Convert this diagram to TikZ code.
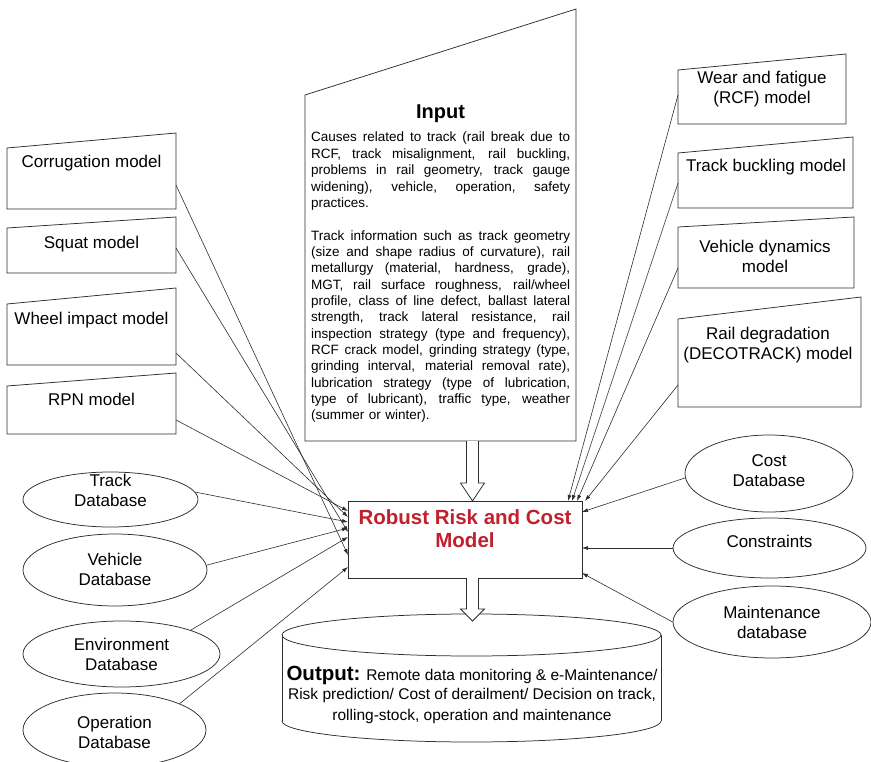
\documentclass[tikz,border=0pt]{standalone}
\usepackage{fontspec}
\setmainfont{Liberation Sans}
\usetikzlibrary{arrows.meta,shapes.geometric}
\definecolor{rrred}{RGB}{193,32,45}
\definecolor{ink}{RGB}{45,45,45}
\newcommand{\jline}[1]{\leavevmode{\spaceskip=0.278em plus 1fil\xspaceskip=0.278em plus 1fil\hbox to 259pt{#1}}}
\begin{document}
\begin{tikzpicture}[x=1pt,y=-1pt,
  shapeline/.style={draw=ink,line width=0.75pt,fill=white,line join=miter},
  lbl/.style={inner sep=0pt,align=center,text=black,font=\fontsize{17}{20}\selectfont},
  dbnode/.style={shapeline,ellipse,inner sep=0pt},
  conn/.style={draw=ink,line width=0.6pt,-{Latex[length=6pt,width=4pt]}}]
\useasboundingbox (0,0) rectangle (871,762);

% ---------- Input box ----------
\draw[shapeline] (305,441) -- (305,95) -- (576,9) -- (576,441) -- cycle;
\node[anchor=base,inner sep=0pt,font=\fontsize{20}{24}\selectfont\bfseries] (inputtitle) at (440.5,119) {Input};
\node[anchor=north west,inner sep=0pt,text width=259pt,font=\fontsize{13.5}{16.35}\selectfont] (inputbody) at (311,132) {\noindent
\jline{Causes related to track (rail break due to}\\
\jline{RCF, track misalignment, rail buckling,}\\
\jline{problems in rail geometry, track gauge}\\
\jline{widening), vehicle, operation, safety}\\
practices.\\[16.35pt]
\jline{Track information such as track geometry}\\
\jline{(size and shape radius of curvature), rail}\\
\jline{metallurgy (material, hardness, grade),}\\
\jline{MGT, rail surface roughness, rail/wheel}\\
\jline{profile, class of line defect, ballast lateral}\\
\jline{strength, track lateral resistance, rail}\\
\jline{inspection strategy (type and frequency),}\\
\jline{RCF crack model, grinding strategy (type,}\\
\jline{grinding interval, material removal rate),}\\
\jline{lubrication strategy (type of lubrication,}\\
\jline{type of lubricant), traffic type, weather}\\
(summer or winter).};

% ---------- Robust model box ----------
\node[shapeline,minimum width=234pt,minimum height=77pt,inner sep=0pt] (robust) at (465,539.5) {};
\node[inner sep=0pt,align=center,text=rrred,font=\fontsize{20.5}{23}\selectfont\bfseries] (robusttxt) at (465,529) {Robust Risk and Cost\\Model};

% block arrow input -> model
\draw[shapeline] (466.5,441) -- (466.5,483) -- (460.5,483) -- (472.5,501) -- (484.5,483) -- (478.5,483) -- (478.5,441);

% ---------- Output cylinder ----------
\draw[draw=ink,line width=0.75pt,fill=white] (471.5,721) ellipse [x radius=189.5,y radius=21];
\fill[white] (282,635) rectangle (661,721);
\draw[draw=ink,line width=0.75pt] (282,635) -- (282,721) (661,635) -- (661,721);
\draw[shapeline] (471.5,635) ellipse [x radius=189.5,y radius=21];
\draw[shapeline] (466.5,578) -- (466.5,609) -- (460.5,609) -- (472.5,621) -- (484.5,609) -- (478.5,609) -- (478.5,578);
\node[inner sep=0pt,align=center,font=\fontsize{15.5}{19}\selectfont] (outtxt) at (472,694.5) {{\fontsize{20.5}{19}\selectfont\bfseries Output:} Remote data monitoring \& e-Maintenance/\\Risk prediction/ Cost of derailment/ Decision on track,\\[2pt]rolling-stock, operation and maintenance};

% ---------- Left model boxes ----------
\draw[shapeline] (7,209) -- (7,148) -- (176,133) -- (176,209) -- cycle;
\node[lbl,anchor=base] (corrtxt) at (91.5,168) {Corrugation model};
\coordinate (corrout) at (176,185);
\draw[shapeline] (7,273) -- (7,228) -- (176,217) -- (176,273) -- cycle;
\node[lbl,anchor=base] (squattxt) at (91.5,249) {Squat model};
\coordinate (squatout) at (176,248);
\draw[shapeline] (7,365) -- (7,304) -- (176,288) -- (176,365) -- cycle;
\node[lbl,anchor=base] (wheeltxt) at (91.5,325) {Wheel impact model};
\coordinate (wheelout) at (176,353);
\draw[shapeline] (7,434) -- (7,386) -- (176,373) -- (176,434) -- cycle;
\node[lbl,anchor=base] (rpntxt) at (91.5,406) {RPN model};
\coordinate (rpnout) at (176,420);

% ---------- Right model boxes ----------
\draw[shapeline] (678,124) -- (678,70) -- (846,54) -- (846,124) -- cycle;
\node[lbl] (weartxt) at (762,89) {Wear and fatigue\\(RCF) model};
\coordinate (wearout) at (678,95);
\draw[shapeline] (678,208) -- (678,153) -- (853,137) -- (853,208) -- cycle;
\node[lbl,anchor=base] (bucktxt) at (766,172) {Track buckling model};
\coordinate (buckout) at (678,183);
\draw[shapeline] (678,288) -- (678,227) -- (854,217) -- (854,288) -- cycle;
\node[lbl] (vdyntxt) at (765,256) {Vehicle dynamics\\model};
\coordinate (vdynout) at (678,268);
\draw[shapeline] (678,407) -- (678,319) -- (861,297) -- (861,407) -- cycle;
\node[lbl] (railtxt) at (768,345) {Rail degradation\\(DECOTRACK) model};
\coordinate (railout) at (678,385);

% ---------- Left databases ----------
\node[dbnode,minimum width=175pt,minimum height=55pt] (trackdb) at (110.5,499.5) {};
\node[lbl] (trackdbtxt) at (110.5,490) {Track\\Database};
\node[dbnode,minimum width=184pt,minimum height=72pt] (vehdb) at (115,570) {};
\node[lbl] (vehdbtxt) at (115,569) {Vehicle\\Database};
\node[dbnode,minimum width=197pt,minimum height=66pt] (envdb) at (121.5,654) {};
\node[lbl] (envdbtxt) at (121.5,654) {Environment\\Database};
\node[dbnode,minimum width=183pt,minimum height=74pt] (opdb) at (114.5,730) {};
\node[lbl] (opdbtxt) at (114.5,732.5) {Operation\\Database};

% ---------- Right databases ----------
\node[dbnode,minimum width=168pt,minimum height=77pt] (costdb) at (769,473.5) {};
\node[lbl] (costdbtxt) at (769,471) {Cost\\Database};
\node[dbnode,minimum width=193pt,minimum height=60pt] (cons) at (769.5,548) {};
\node[lbl,anchor=base] (constxt) at (769.5,547) {Constraints};
\node[dbnode,minimum width=198pt,minimum height=72pt] (maint) at (772,622) {};
\node[lbl] (mainttxt) at (772,622) {Maintenance\\database};

% ---------- arrow targets on the model box ----------
\coordinate (inRpn) at (348,511);
\coordinate (inWheel) at (348,517);
\coordinate (inTrack) at (348,522);
\coordinate (inVeh) at (348,528);
\coordinate (inSquat) at (348,532);
\coordinate (inEnv) at (348,537);
\coordinate (inCorr) at (348,555);
\coordinate (inOp) at (348,567);
\coordinate (inWear) at (568,501);
\coordinate (inBuck) at (572,501);
\coordinate (inVdyn) at (577,501);
\coordinate (inRail) at (585,501);
\coordinate (inCost) at (582,512);
\coordinate (inCons) at (582,548);
\coordinate (inMaint) at (582,573);

% ---------- connectors ----------
\draw[conn] (corrout) -- (inCorr);
\draw[conn] (squatout) -- (inSquat);
\draw[conn] (wheelout) -- (inWheel);
\draw[conn] (rpnout) -- (inRpn);
\draw[conn] (trackdb.5) -- (inTrack);
\draw[conn] (vehdb.3) -- (inVeh);
\draw[conn] (envdb.19) -- (inEnv);
\draw[conn] (opdb.22) -- (inOp);
\draw[conn] (wearout) -- (inWear);
\draw[conn] (buckout) -- (inBuck);
\draw[conn] (vdynout) -- (inVdyn);
\draw[conn] (railout) -- (inRail);
\draw[conn] (costdb.183) -- (inCost);
\draw[conn] (cons.west) -- (inCons);
\draw[conn] (maint.west) -- (inMaint);
\end{tikzpicture}
\end{document}
